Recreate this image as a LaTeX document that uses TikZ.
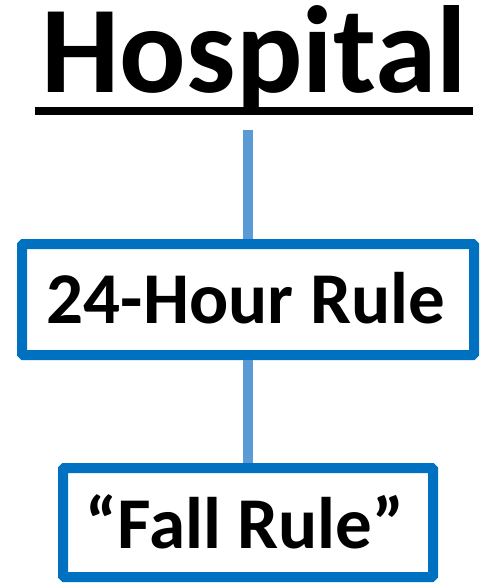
\documentclass[tikz,border=0pt]{standalone}
\usepackage{fontspec}
\setmainfont{Carlito}
\definecolor{boxblue}{HTML}{0070C0}
\definecolor{lineblue}{HTML}{5B9BD5}
\tikzset{
  rulebox/.style={draw=boxblue, line width=10pt, rounded corners=1.5pt,
    fill=white, inner sep=0pt, font=\bfseries\fontsize{73}{80}\selectfont},
  link/.style={draw=lineblue, line width=10.5pt}
}
\begin{document}
\begin{tikzpicture}[x=1pt, y=-1pt]
  \useasboundingbox (0,0) rectangle (499,583);

  % titolo sottolineato
  \node[anchor=base, inner sep=0pt, font=\bfseries\fontsize{124}{130}\selectfont]
    (title) at (254,93) {Hospital};
  \draw[line width=8pt] ([xshift=-6pt, yshift=-18pt]title.base west)
    -- ([xshift=6pt, yshift=-18pt]title.base east);
  \coordinate (titlefoot) at (248,130);

  % riquadri
  \node[rulebox, minimum width=452pt, minimum height=111pt] (hour) at (248,299.5) {};
  \node at (246,298.5) [font=\bfseries\fontsize{73}{80}\selectfont] (hourtext) {24-Hour Rule};
  \node[rulebox, minimum width=370pt, minimum height=109pt] (fall) at (248,522.5) {};
  \node at (245,522) [font=\bfseries\fontsize{73}{80}\selectfont] (falltext) {“Fall Rule”};

  % collegamenti
  \draw[link] (titlefoot) -- (hour.north);
  \draw[link] (hour.south) -- (fall.north);
\end{tikzpicture}
\end{document}
